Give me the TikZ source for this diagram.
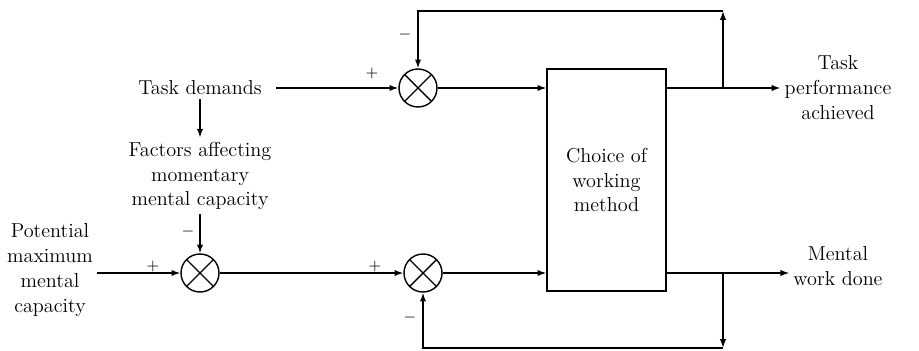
\documentclass[tikz,border=0pt]{standalone}
\usepackage{tikz}
\usetikzlibrary{arrows.meta}
\tikzset{
  sumpt/.style={circle,draw,minimum size=.76cm,inner sep=0pt,
    path picture={\draw(path picture bounding box.north west)--(path picture bounding box.south east)
      (path picture bounding box.north east)--(path picture bounding box.south west);}},
  lbl/.style={align=center,font=\fontsize{11.5}{14.2}\selectfont,inner sep=2pt},
  sgn/.style={font=\small,inner sep=0pt}
}
\begin{document}
\begin{tikzpicture}[x=.02cm,y=-.02cm,line width=.8pt,>={Latex[length=5pt,width=3.6pt]}]
\useasboundingbox(0,0)rectangle(919,351);
% summing points and the box
\node[sumpt](s1)at(418,88){};
\node[sumpt](s2)at(200,273){};
\node[sumpt](s3)at(423,273){};
\node[draw,lbl,minimum width=2.38cm,minimum height=4.44cm](cw)at(606.5,180){Choice of\\working\\method};
% texts
\node[lbl](td)at(200,88){Task demands};
\node[lbl](fa)at(200,176){Factors affecting\\momentary\\mental capacity};
\node[lbl](pm)at(50,270){Potential\\maximum\\mental\\capacity};
\node[lbl](tp)at(838,88){Task\\performance\\achieved};
\node[lbl](mw)at(838,266){Mental\\work done};
\coordinate(b1)at(723,88);\coordinate(c1)at(723,11);
\coordinate(b2)at(723,273);\coordinate(c2)at(723,348);
% connectors
\draw[->]([xshift=6pt]td.east)--(s1.west);
\draw[->](td.south)--(fa.north);\draw[->](fa.south)--(s2.north);
\draw[->](s2.west -| pm.east)--(s2.west);\draw[->](s2.east)--(s3.west);
\draw[->](s1.east)--(s1.east -| cw.west);\draw[->](s3.east)--(s3.east -| cw.west);
\draw[->](s1.east -| cw.east)--(s1.east -| tp.west);
\draw[->](s3.east -| cw.east)--(s3.east -| mw.west);
\draw[->](b1)--(c1);\draw[->](c1)-|(s1.north);
\draw[->](b2)--(c2);\draw[->](c2)-|(s3.south);
% signs
\node[sgn]at(405,35){$-$};\node[sgn]at(372,74){$+$};
\node[sgn]at(188,232){$-$};\node[sgn]at(153,267){$+$};
\node[sgn]at(375,267){$+$};\node[sgn]at(410,318){$-$};
\end{tikzpicture}
\end{document}
